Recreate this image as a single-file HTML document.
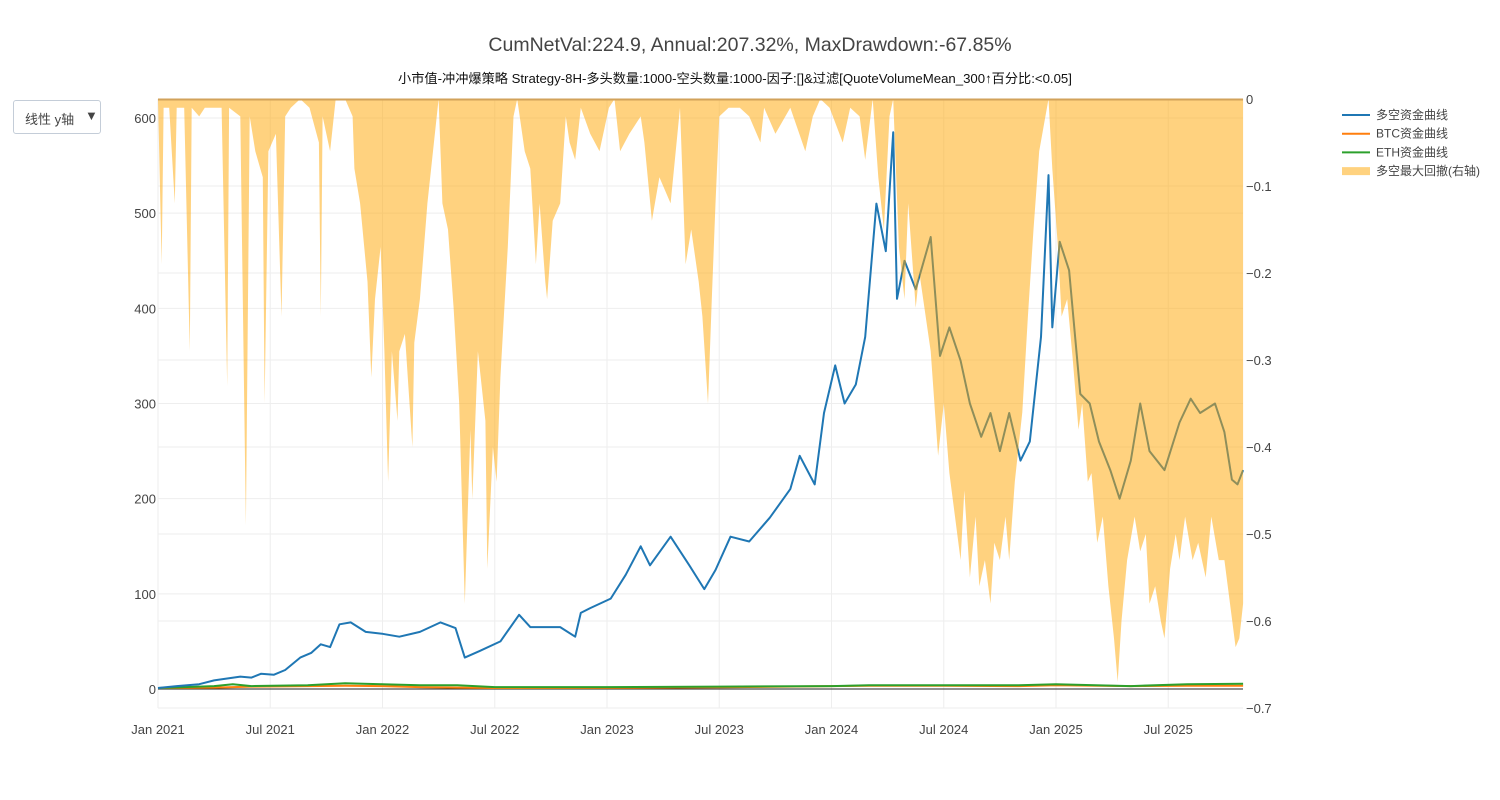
<!DOCTYPE html>
<html><head><meta charset="utf-8">
<style>
body{margin:0;background:#fff;width:1500px;height:800px;overflow:hidden;font-family:"Liberation Sans","Noto Sans CJK SC",sans-serif;}
svg text{font-family:"Liberation Sans","Noto Sans CJK SC",sans-serif;}
#dd{position:absolute;left:13px;top:100px;width:88px;height:34px;border:1px solid #c4cdd8;border-radius:3px;box-sizing:border-box;font-size:13px;color:#444;}
</style></head>
<body>
<div id="dd"><span style="position:absolute;left:11px;top:8px">线性 y轴</span><span style="position:absolute;left:71px;top:7px;font-size:13px">▼</span></div>
<svg id="c" width="1500" height="800" style="position:absolute;left:0;top:0;pointer-events:none"></svg>
<script>
const xTickLabels=["Jan 2021","Jul 2021","Jan 2022","Jul 2022","Jan 2023","Jul 2023","Jan 2024","Jul 2024","Jan 2025","Jul 2025"];
const xTickMonths=[0,6,12,18,24,30,36,42,48,54];
const yTicksL=[0,100,200,300,400,500,600];
const yTicksR=[0,-0.1,-0.2,-0.3,-0.4,-0.5,-0.6,-0.7];
const stratMonths=[0,1,2.2,3,4.4,5,5.5,6.2,6.8,7.6,8.2,8.7,9.2,9.7,10.3,11.1,12,12.9,14,15.1,15.9,16.4,17.2,18.3,19.3,19.9,21.5,22.3,22.6,23.1,24.2,25,25.8,26.3,27.4,28.4,29.2,29.8,30.6,31.6,32.7,33.8,34.3,35.1,35.6,36.2,36.7,37.3,37.8,38.4,38.9,39.3,39.5,39.9,40.5,41.3,41.8,42.3,42.9,43.4,44,44.5,45,45.5,46.1,46.6,47.2,47.6,47.8,48.2,48.7,49.3,49.8,50.3,50.9,51.4,52,52.5,53,53.8,54.6,55.2,55.7,56.5,57,57.4,57.7,58];
const stratVals=[1,3,5,9,13,12,16,15,20,33,38,47,44,68,70,60,58,55,60,70,64,33,40,50,78,65,65,55,80,85,95,120,150,130,160,130,105,125,160,155,180,210,245,215,290,340,300,320,370,510,460,585,410,450,420,475,350,380,345,300,265,290,250,290,240,260,370,540,380,470,440,310,300,260,230,200,240,300,250,230,280,305,290,300,270,220,215,230];
const btcMonths=[0,3,4,5,8,10,12,14,16,18,24,30,36,38,42,46,48,52,55,58];
const btcVals=[1,1.5,2,2.5,3,3.5,3,2,1.5,1,1.2,1.8,3,3.5,3.5,3,4,3,3.5,3.5];
const ethMonths=[0,3,4,5,8,10,12,14,16,18,24,30,36,38,42,46,48,52,55,58];
const ethVals=[1,3,5,3,4,6,5,4,4,2,2,2.5,3,4,4,4,5,3,5,5.5];
const ddMonths=[0,0.2,0.3,0.6,0.9,1.0,1.4,1.7,1.8,2.2,2.5,3.0,3.4,3.7,3.8,4.4,4.7,4.9,5.2,5.6,5.7,5.9,6.3,6.6,6.8,7.1,7.6,8.1,8.6,8.7,8.8,9.2,9.5,10.0,10.4,10.5,10.8,11.2,11.4,11.6,11.9,12.1,12.3,12.5,12.8,12.9,13.2,13.6,13.7,14.0,14.4,15.0,15.2,15.5,15.8,16.1,16.4,16.7,16.8,17.1,17.5,17.6,17.9,18.1,18.3,18.7,19.0,19.2,19.6,19.9,20.2,20.4,20.7,20.8,21.1,21.5,21.8,22.0,22.3,22.6,23.1,23.6,24.1,24.4,24.7,25.2,25.8,26.0,26.4,26.8,27.4,27.9,28.2,28.5,28.9,29.1,29.4,29.6,29.8,30.0,30.5,31.1,31.6,32.2,32.4,33.0,33.8,34.6,35.0,35.4,35.9,36.6,37.0,37.5,37.8,38.2,38.5,38.8,39.1,39.3,39.6,39.9,40.1,40.5,40.7,41.3,41.7,42.0,42.3,42.6,42.9,43.1,43.4,43.7,43.9,44.2,44.5,44.7,45.0,45.3,45.5,45.8,46.2,46.5,46.8,47.1,47.6,47.8,48.1,48.3,48.6,48.9,49.2,49.4,49.7,49.9,50.2,50.5,50.8,51.1,51.3,51.5,51.8,52.2,52.5,52.8,53.0,53.3,53.6,53.8,54.1,54.4,54.6,54.9,55.3,55.6,56.0,56.3,56.7,57.0,57.3,57.6,57.8,58.0];
const ddVals=[0,-0.19,-0.01,-0.01,-0.12,-0.01,-0.01,-0.29,-0.01,-0.02,-0.01,-0.01,-0.01,-0.33,-0.01,-0.02,-0.49,-0.02,-0.06,-0.09,-0.35,-0.06,-0.04,-0.25,-0.02,-0.01,0,-0.01,-0.05,-0.25,-0.02,-0.06,0,0,-0.02,-0.08,-0.12,-0.21,-0.32,-0.23,-0.17,-0.29,-0.44,-0.29,-0.37,-0.29,-0.27,-0.40,-0.28,-0.23,-0.12,0,-0.12,-0.15,-0.24,-0.35,-0.58,-0.38,-0.46,-0.29,-0.37,-0.54,-0.40,-0.44,-0.32,-0.17,-0.02,0,-0.06,-0.08,-0.19,-0.12,-0.21,-0.23,-0.14,-0.12,-0.02,-0.05,-0.07,-0.01,-0.04,-0.06,-0.01,0,-0.06,-0.04,-0.02,-0.05,-0.14,-0.09,-0.12,-0.01,-0.19,-0.15,-0.21,-0.25,-0.35,-0.23,-0.12,-0.02,-0.01,-0.01,-0.02,-0.05,-0.01,-0.04,-0.01,-0.06,-0.02,0,-0.01,-0.05,-0.01,-0.02,-0.07,0,-0.09,-0.15,-0.02,0,-0.17,-0.23,-0.12,-0.24,-0.20,-0.29,-0.41,-0.35,-0.43,-0.48,-0.53,-0.45,-0.55,-0.48,-0.56,-0.53,-0.58,-0.51,-0.53,-0.48,-0.53,-0.44,-0.36,-0.25,-0.15,-0.06,0,-0.08,-0.17,-0.25,-0.23,-0.30,-0.38,-0.35,-0.44,-0.43,-0.51,-0.48,-0.56,-0.62,-0.67,-0.60,-0.53,-0.48,-0.52,-0.50,-0.58,-0.56,-0.60,-0.62,-0.54,-0.50,-0.53,-0.48,-0.53,-0.51,-0.55,-0.48,-0.53,-0.53,-0.58,-0.63,-0.62,-0.58];

const X0=158,X1=1243,Y0=99,Y1=708;
const xS=m=>X0+m*(898/48);
const yL=v=>689-v*(571/600);
const yR=v=>Y0-v*(Y1-Y0)/0.7;
const svg=document.getElementById('c');
const NS='http://www.w3.org/2000/svg';
function mk(t,a,p){const e=document.createElementNS(NS,t);for(const k in a)e.setAttribute(k,a[k]);(p||svg).appendChild(e);return e;}
function txt(x,y,s,anchor,size,fill){const e=mk('text',{x:x,y:y,'text-anchor':anchor,'font-size':size,fill:fill});e.textContent=s;return e;}

let t=txt(750,51,'CumNetVal:224.9, Annual:207.32%, MaxDrawdown:-67.85%','middle',19.5,'#444');

t=txt(735,83,'小市值-冲冲爆策略 Strategy-8H-多头数量:1000-空头数量:1000-因子:[]&过滤[QuoteVolumeMean_300↑百分比:<0.05]','middle',13.2,'#111');


const grid=mk('g',{});
yTicksL.forEach(v=>mk('line',{x1:X0,x2:X1,y1:yL(v),y2:yL(v),stroke:'#eee','stroke-width':1},grid));
yTicksR.forEach(v=>mk('line',{x1:X0,x2:X1,y1:yR(v),y2:yR(v),stroke:'#eee','stroke-width':1},grid));
xTickMonths.forEach(m=>mk('line',{x1:xS(m),x2:xS(m),y1:Y0,y2:Y1,stroke:'#eee','stroke-width':1},grid));
let z=mk('line',{x1:X0,x2:X1,y1:yL(0),y2:yL(0),stroke:'#222','stroke-width':1});


xTickLabels.forEach((s,i)=>{const e=txt(xS(xTickMonths[i]),734,s,'middle',13,'#444');
});
yTicksL.forEach(v=>{const e=txt(156,yL(v)+5,String(v),'end',13,'#444');
});
yTicksR.forEach(v=>{const e=txt(1246,yR(v)+5,v===0?'0':'−'+Math.abs(v).toFixed(1),'start',13,'#444');
});

function line(ms,vs,col,w,name){const d=ms.map((m,i)=>(i?'L':'M')+xS(m).toFixed(1)+','+yL(vs[i]).toFixed(1)).join('');
const e=mk('path',{d:d,fill:'none',stroke:col,'stroke-width':w,'stroke-linejoin':'round'});
}
line(btcMonths,btcVals,'#ff7f0e',2,'btc-equity-line');
line(ethMonths,ethVals,'#2ca02c',2,'eth-equity-line');
line(stratMonths,stratVals,'#1f77b4',2,'strategy-equity-line');

let dpath='M'+xS(ddMonths[0])+','+yR(0);
ddMonths.forEach((m,i)=>{dpath+='L'+xS(m).toFixed(1)+','+yR(ddVals[i]).toFixed(1);});
dpath+='L'+xS(ddMonths[ddMonths.length-1])+','+yR(0)+'Z';
const f=mk('path',{d:dpath,fill:'rgba(255,165,0,0.5)',stroke:'none'});


const tl=mk('line',{x1:X0,x2:X1,y1:Y0+0.5,y2:Y0+0.5,stroke:'#d2a25a','stroke-width':2});



const legItems=[['多空资金曲线','#1f77b4',2],['BTC资金曲线','#ff7f0e',2],['ETH资金曲线','#2ca02c',2],['多空最大回撤(右轴)','rgba(255,165,0,0.5)',8]];
legItems.forEach((it,i)=>{const g=mk('g',{});


const y=115+i*18.7;
mk('line',{x1:1342,x2:1370,y1:y,y2:y,stroke:it[1],'stroke-width':it[2]},g);
const e=txt(1376,y+4,it[0],'start',12,'#444');g.appendChild(e);});
</script>
</body></html>
